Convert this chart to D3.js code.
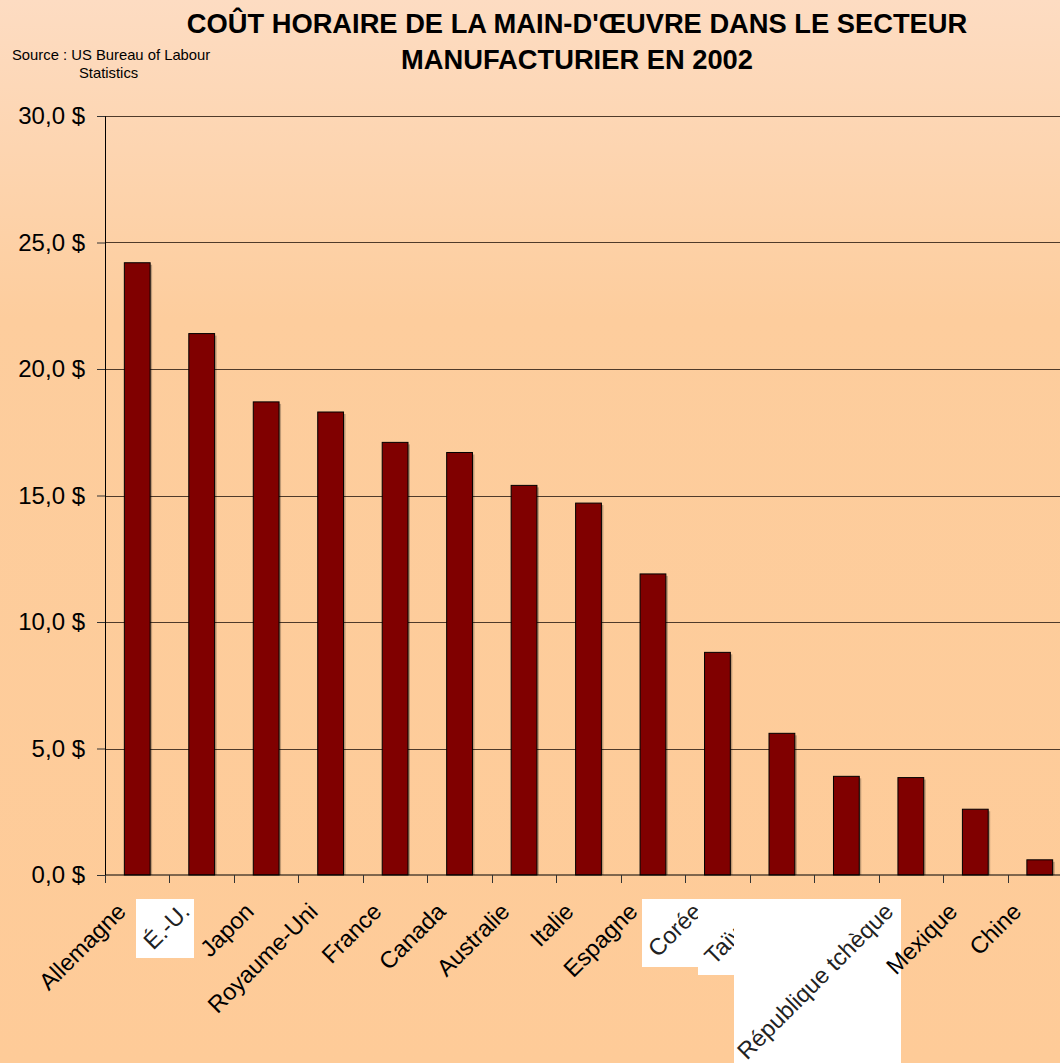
<!DOCTYPE html>
<html lang="fr">
<meta charset="utf-8">
<style>
body { margin: 0; }
svg { display: block; font-family: "Liberation Sans", Arial, sans-serif; }
.grid line { stroke: #4f3a2a; stroke-width: 1px; }
.bar { fill: #800000; stroke: #000; stroke-width: 1px; }
</style>
<body>
<script src="https://cdnjs.cloudflare.com/ajax/libs/d3/7.8.5/d3.min.js"></script>
<script>

// data
var countries = ["Allemagne", "É.-U.", "Japon", "Royaume-Uni", "France", "Canada", "Australie",
                 "Italie", "Espagne", "Corée", "Taïwan", "", "République tchèque", "Mexique", "Chine"];
var cost = [24.2, 21.4, 18.7, 18.3, 17.1, 16.7, 15.4, 14.7, 11.9, 8.8, 5.6, 3.9, 3.85, 2.6, 0.6];
var yTicks = [0, 5, 10, 15, 20, 25, 30];
var titleLines = ["COÛT HORAIRE DE LA MAIN-D'ŒUVRE DANS LE SECTEUR", "MANUFACTURIER EN 2002"];

var W = 1060, H = 1063;
var margin = {top: 116, left: 105};
var plotW = 967, plotH = 875 - 116;

var svg = d3.select("body").append("svg")
    .attr("width", W)
    .attr("height", H);

var grad = svg.append("defs").append("linearGradient")
    .attr("id", "bg").attr("x1", 0).attr("y1", 0).attr("x2", 0).attr("y2", 1);
grad.append("stop").attr("offset", "0%").attr("stop-color", "#fddcc2");
grad.append("stop").attr("offset", "30%").attr("stop-color", "#fdcd9d");
grad.append("stop").attr("offset", "100%").attr("stop-color", "#fecb98");

svg.append("rect").attr("width", W).attr("height", H).attr("fill", "url(#bg)");

// title + source
svg.append("text")
    .attr("x", 577).attr("y", 33)
    .attr("text-anchor", "middle")
    .style("font-size", "27.3px").style("font-weight", "bold")
  .selectAll("tspan").data(titleLines).enter().append("tspan")
    .attr("x", 577).attr("dy", function(d, i) { return i ? 36 : 0; })
    .text(function(d) { return d; });

svg.append("text").attr("x", 12).attr("y", 60)
    .style("font-size", "14.8px").text("Source : US Bureau of Labour");
svg.append("text").attr("x", 79).attr("y", 78)
    .style("font-size", "14.8px").text("Statistics");

var g = svg.append("g")
    .attr("transform", "translate(" + margin.left + "," + margin.top + ")");

var x = d3.scaleBand()
    .domain(d3.range(countries.length))
    .range([0, plotW])
    .paddingInner(0.6)
    .paddingOuter(0.3);

var y = d3.scaleLinear().domain([0, 30]).range([plotH, 0]);

// gridlines
g.append("g").attr("class", "grid")
  .selectAll("line").data(yTicks.slice(1)).enter().append("line")
    .attr("x1", 0).attr("x2", plotW)
    .attr("y1", function(d) { return Math.round(y(d)) + 0.5; })
    .attr("y2", function(d) { return Math.round(y(d)) + 0.5; });

// bars with a faint shadow
g.selectAll(".shadow").data(cost).enter().append("rect")
    .attr("x", function(d, i) { return x(i) + 2; })
    .attr("y", function(d) { return y(d) + 2; })
    .attr("width", x.bandwidth())
    .attr("height", function(d) { return plotH - y(d) - 2; })
    .attr("fill", "#000").attr("opacity", 0.25);

g.selectAll(".bar").data(cost).enter().append("rect")
    .attr("class", "bar")
    .attr("x", function(d, i) { return x(i); })
    .attr("y", function(d) { return y(d); })
    .attr("width", x.bandwidth())
    .attr("height", function(d) { return plotH - y(d); });

// y axis
var yAxis = g.append("g")
    .call(d3.axisLeft(y).tickValues(yTicks).tickSize(8).tickPadding(12)
      .tickFormat(function(d) { return d3.format(".1f")(d).replace(".", ",") + " $"; }));
yAxis.select(".domain").attr("stroke", "#000");
yAxis.selectAll("line").attr("stroke", "#333");
yAxis.selectAll("text").style("font-size", "24px").attr("fill", "#000")
    .style("font-family", "Liberation Sans, Arial, sans-serif");

// x axis: ticks at band boundaries
var step = x.step();
var bottom = g.append("g").attr("transform", "translate(0," + plotH + ")");
bottom.append("line").attr("x1", 0).attr("x2", plotW).attr("stroke", "#000");
bottom.selectAll(".tk").data(d3.range(countries.length + 1)).enter().append("line")
    .attr("x1", function(i) { return Math.round(i * step) + 0.5; })
    .attr("x2", function(i) { return Math.round(i * step) + 0.5; })
    .attr("y1", 0).attr("y2", 8)
    .attr("stroke", "#333");

// white patches pasted over some labels in the original
var patches = [
  {x: 136, y: 899, w: 58, h: 59},
  {x: 642, y: 899, w: 56, h: 68},
  {x: 698, y: 899, w: 36, h: 76},
  {x: 734, y: 899, w: 167, h: 164}
];
var defs = svg.select("defs");
patches.forEach(function(p, i) {
  defs.append("clipPath").attr("id", "clip" + i)
    .append("rect").attr("x", p.x).attr("y", p.y).attr("width", p.w).attr("height", p.h);
});
// which label sits in which patch (-1 = plain background)
var patchOf = [-1, 0, -1, -1, -1, -1, -1, -1, -1, 1, 2, 3, 3, -1, -1];

function labelPos(i) {
  return [margin.left + x(i) + x.bandwidth() / 2 - 10 - 0.5 * i, 913];
}
function labelTf(i) {
  var p = labelPos(i);
  return "translate(" + p[0] + "," + p[1] + ") rotate(-45)";
}

patches.forEach(function(p) {
  svg.append("rect").attr("x", p.x).attr("y", p.y).attr("width", p.w).attr("height", p.h).attr("fill", "#fff");
});

// labels on the plain background
svg.append("g").selectAll("text")
    .data(countries.map(function(c, i) { return i; }).filter(function(i) { return patchOf[i] < 0; }))
  .enter().append("text")
    .attr("text-anchor", "end")
    .attr("transform", labelTf)
    .style("font-size", "23.5px")
    .text(function(i) { return countries[i]; });

// labels inside the patches, clipped to them
patches.forEach(function(p, k) {
  var idx = patchOf.map(function(v, i) { return v === k ? i : -1; }).filter(function(i) { return i >= 0 && countries[i]; });
  svg.append("g").attr("clip-path", "url(#clip" + k + ")")
    .selectAll("text").data(idx).enter().append("text")
      .attr("text-anchor", "end")
      .attr("fill", "#222")
      .attr("transform", labelTf)
      .style("font-size", "23.5px")
      .text(function(i) { return countries[i]; });
});

</script>
</body>
</html>
